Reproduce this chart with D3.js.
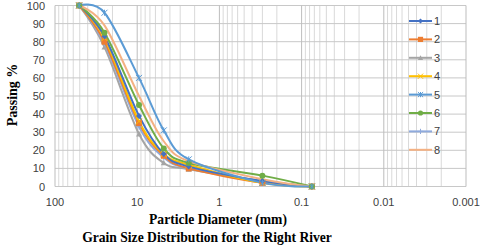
<!DOCTYPE html>
<html>
<head>
<meta charset="utf-8">
<style>
  body { margin: 0; background: #fff; }
  svg { display: block; }
</style>
</head>
<body>
<div id="container"></div>
<script src="https://cdn.jsdelivr.net/npm/d3@7"></script>
<script>

// sieve sizes (mm) and passing % for each sample
const sizes = [50.8, 25, 9.5, 4.75, 2.36, 0.3, 0.075];
const s1 = [100, 83, 39, 18, 11, 3, 0];
const s2 = [100, 80, 35, 17, 10, 2, 0];
const s3 = [100, 77, 29, 13, 9.5, 3, 0];
const s4 = [100, 82, 36, 18, 12, 2, 0];
const s5 = [100, 96, 60, 31, 15, 2, 0];
const s6 = [100, 85, 45, 21, 13, 6, 0];
const s7 = [100, 79, 33, 16, 10, 3, 0];
const s8 = [100, 89, 50, 25, 14, 4, 0];
const seriesNames = ["1", "2", "3", "4", "5", "6", "7", "8"];
const xTicks = [100, 10, 1, 0.1, 0.01, 0.001];
const yTicks = [0, 10, 20, 30, 40, 50, 60, 70, 80, 90, 100];

const allSeries = [s1, s2, s3, s4, s5, s6, s7, s8];
const colors = ["#4472C4", "#ED7D31", "#A5A5A5", "#FFC000", "#5B9BD5", "#70AD47", "#8FAADC", "#F4B183"];
const markers = ["diamond", "square", "triangle", "x", "star", "circle", "plus", "none"];

const W = 480, H = 248;
const svg = d3.select("#container").append("svg")
    .attr("width", W).attr("height", H);

const x = d3.scaleLog().domain([100, 0.001]).range([55, 466]);
const y = d3.scaleLinear().domain([0, 100]).range([186.5, 5.5]);

// gridlines
const grid = svg.append("g");
const minor = [];
for (let e = -3; e < 2; e++) {
    for (let k = 2; k <= 9; k++) minor.push(k * Math.pow(10, e));
}
grid.selectAll(".minor").data(minor).join("line")
    .attr("x1", d => x(d)).attr("x2", d => x(d))
    .attr("y1", y(0)).attr("y2", y(100))
    .attr("stroke", "#d9d9d9").attr("stroke-width", 1);
grid.selectAll(".hy").data(yTicks).join("line")
    .attr("x1", x(100)).attr("x2", x(0.001))
    .attr("y1", d => y(d)).attr("y2", d => y(d))
    .attr("stroke", "#c8c8c8").attr("stroke-width", 1);
grid.selectAll(".major").data(xTicks).join("line")
    .attr("x1", d => x(d)).attr("x2", d => x(d))
    .attr("y1", y(0)).attr("y2", y(100))
    .attr("stroke", "#bdbdbd").attr("stroke-width", 1);

// tick labels
svg.append("g").selectAll("text").data(yTicks).join("text")
    .attr("x", 45).attr("y", d => y(d) + 4)
    .attr("text-anchor", "end")
    .attr("font-family", "Liberation Sans, Arial, sans-serif")
    .attr("font-size", 11).attr("fill", "#404040")
    .text(d => d);
svg.append("g").selectAll("text").data(xTicks).join("text")
    .attr("x", d => x(d)).attr("y", 206)
    .attr("text-anchor", "middle")
    .attr("font-family", "Liberation Sans, Arial, sans-serif")
    .attr("font-size", 11).attr("fill", "#404040")
    .text(d => d);

// axis titles
svg.append("text")
    .attr("transform", "translate(17,95) rotate(-90)")
    .attr("text-anchor", "middle")
    .attr("font-family", "Liberation Serif, Times New Roman, serif")
    .attr("font-weight", "bold").attr("font-size", 14)
    .text("Passing %");
svg.append("text")
    .attr("x", 218).attr("y", 224)
    .attr("text-anchor", "middle")
    .attr("font-family", "Liberation Serif, Times New Roman, serif")
    .attr("font-weight", "bold").attr("font-size", 13.6)
    .text("Particle Diameter (mm)");
svg.append("text")
    .attr("x", 207).attr("y", 242)
    .attr("text-anchor", "middle")
    .attr("font-family", "Liberation Serif, Times New Roman, serif")
    .attr("font-weight", "bold").attr("font-size", 13.6)
    .text("Grain Size Distribution for the Right River");

// marker drawing
function drawMarker(g, type, cx, cy, color, s) {
    if (type === "none") return;
    if (type === "diamond") {
        g.append("path").attr("d", `M${cx},${cy - s}L${cx + s},${cy}L${cx},${cy + s}L${cx - s},${cy}Z`).attr("fill", color);
    } else if (type === "square") {
        g.append("rect").attr("x", cx - s).attr("y", cy - s).attr("width", 2 * s).attr("height", 2 * s).attr("fill", color);
    } else if (type === "triangle") {
        g.append("path").attr("d", `M${cx},${cy - s}L${cx + s},${cy + s * 0.8}L${cx - s},${cy + s * 0.8}Z`).attr("fill", color);
    } else if (type === "circle") {
        g.append("circle").attr("cx", cx).attr("cy", cy).attr("r", s).attr("fill", color);
    } else if (type === "x") {
        g.append("path").attr("d", `M${cx - s},${cy - s}L${cx + s},${cy + s}M${cx - s},${cy + s}L${cx + s},${cy - s}`)
            .attr("stroke", color).attr("stroke-width", 1);
    } else if (type === "star") {
        g.append("path").attr("d", `M${cx - s},${cy - s}L${cx + s},${cy + s}M${cx - s},${cy + s}L${cx + s},${cy - s}M${cx},${cy - s}L${cx},${cy + s}`)
            .attr("stroke", color).attr("stroke-width", 1);
    } else if (type === "plus") {
        g.append("path").attr("d", `M${cx - s},${cy}L${cx + s},${cy}M${cx},${cy - s}L${cx},${cy + s}`)
            .attr("stroke", color).attr("stroke-width", 1);
    }
}

// series lines
const line = d3.line()
    .x((d, i) => x(sizes[i]))
    .y(d => y(d))
    .curve(d3.curveCardinal.tension(0));

const order = [2, 6, 1, 3, 0, 5, 7, 4];
const plot = svg.append("g");
order.forEach(si => {
    plot.append("path")
        .datum(allSeries[si])
        .attr("d", line)
        .attr("fill", "none")
        .attr("stroke", colors[si])
        .attr("stroke-width", 2);
});
order.forEach(si => {
    const g = plot.append("g");
    allSeries[si].forEach((v, i) => drawMarker(g, markers[si], x(sizes[i]), y(v), colors[si], 3));
});

// legend
const legend = svg.append("g");
seriesNames.forEach((name, i) => {
    const ly = 21 + i * 18.4;
    legend.append("line")
        .attr("x1", 409).attr("x2", 432).attr("y1", ly).attr("y2", ly)
        .attr("stroke", colors[i]).attr("stroke-width", 2);
    drawMarker(legend, markers[i], 420.5, ly, colors[i], 2.6);
    legend.append("text")
        .attr("x", 434).attr("y", ly + 4)
        .attr("font-family", "Liberation Sans, Arial, sans-serif")
        .attr("font-size", 11).attr("fill", "#404040")
        .text(name);
});

</script>
</body>
</html>
